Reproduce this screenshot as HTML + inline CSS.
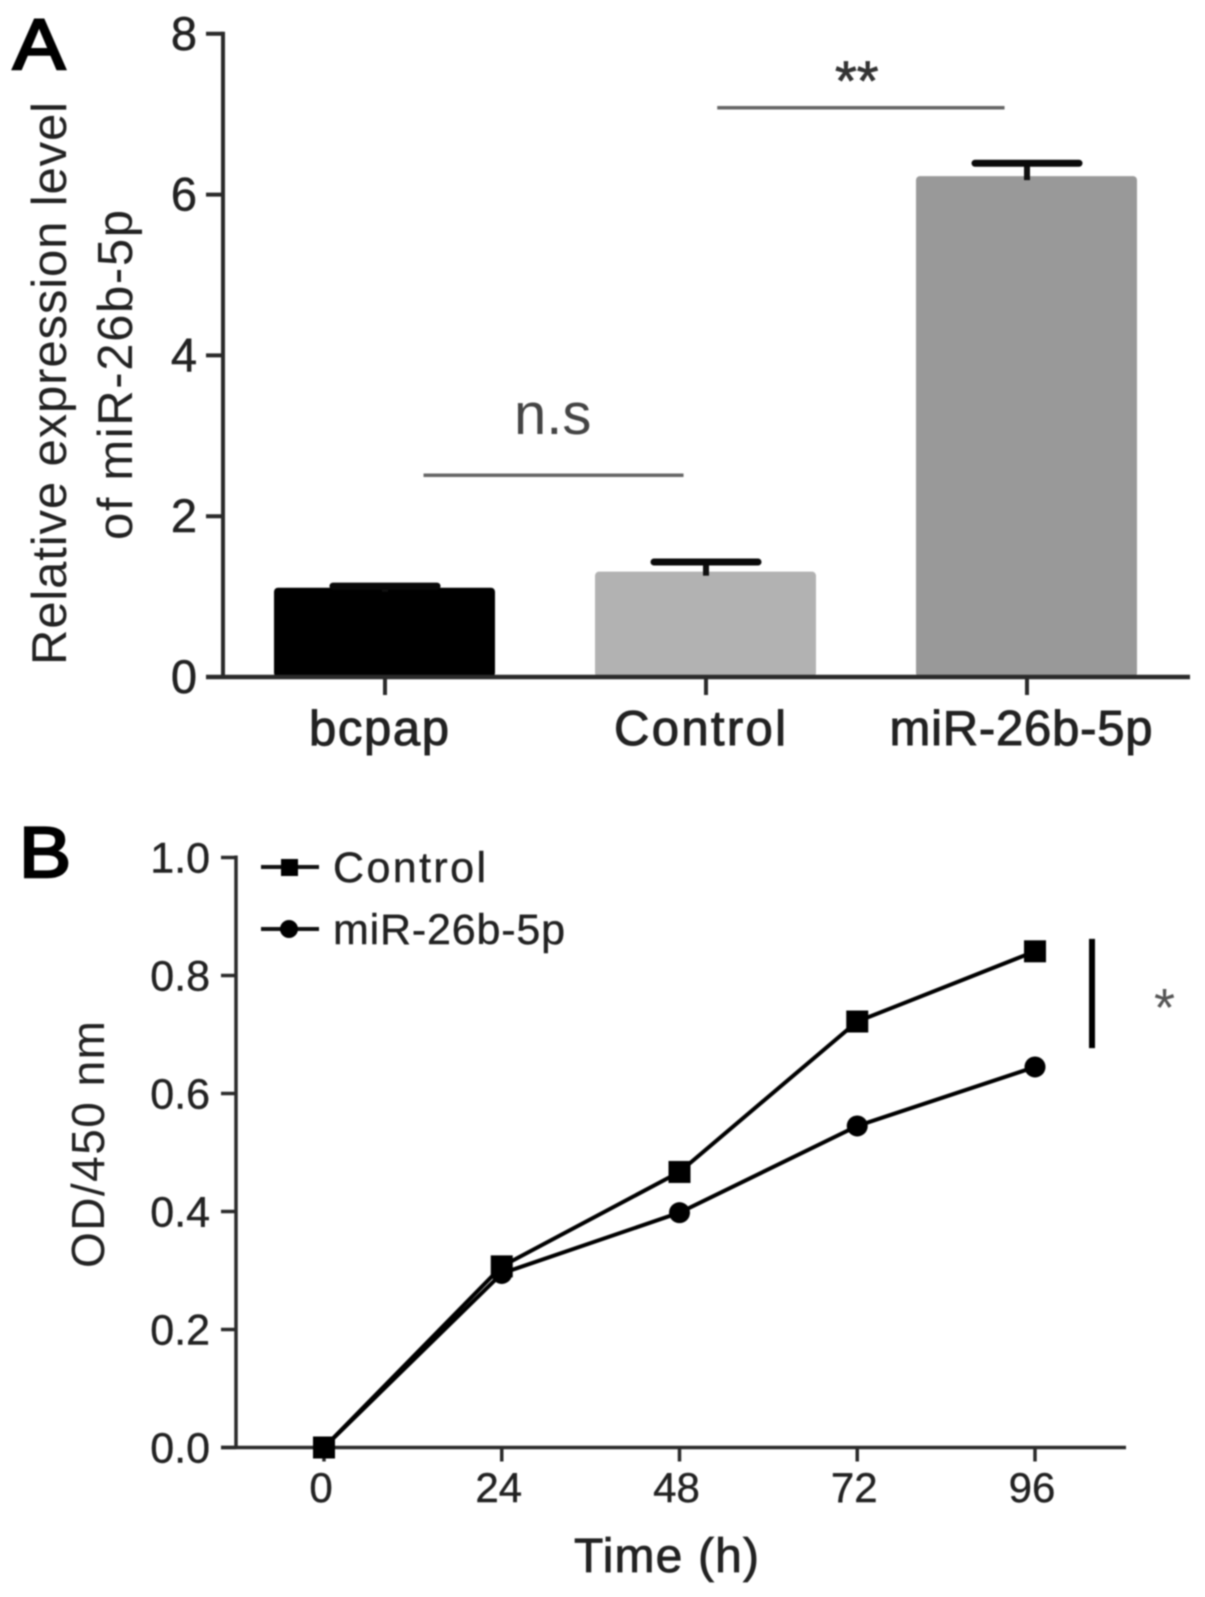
<!DOCTYPE html>
<html lang="en">
<head>
<meta charset="utf-8">
<title>miR-26b-5p expression and OD/450 nm</title>
<style>
html,body{margin:0;padding:0;background:#fff;width:1205px;height:1597px;overflow:hidden}
svg{display:block;filter:blur(.8px)}
text{font-family:"Liberation Sans",Arial,sans-serif;fill:#222}
</style>
</head>
<body>
<svg id="figure" xmlns="http://www.w3.org/2000/svg" width="1205" height="1597" viewBox="0 0 1205 1597">
  <rect width="1205" height="1597" fill="#fff"/>
  <g id="panel-a"></g>
  <g id="panel-b"></g>
  <text transform="translate(13 69) scale(1.1 1)" font-size="71" style="fill:#000;stroke:#000;stroke-width:2.5">A</text>
  <text transform="translate(19 877) scale(1.1 1)" font-size="71" style="fill:#000;stroke:#000;stroke-width:2.5">B</text>
  <text transform="translate(66 665) rotate(-90)" font-size="49" textLength="563" lengthAdjust="spacing">Relative expression level</text>
  <text transform="translate(132 540) rotate(-90)" font-size="49" textLength="330" lengthAdjust="spacing">of miR-26b-5p</text>
  <text transform="translate(104 1268) rotate(-90)" font-size="46" textLength="247" lengthAdjust="spacing">OD/450 nm</text>
  <text x="574" y="1572" font-size="48" textLength="185" lengthAdjust="spacing" style="stroke:#222;stroke-width:.8">Time (h)</text>
  <text x="514" y="434" font-size="58" style="fill:#444">n.s</text>
  <text x="835" y="100" font-size="56" style="fill:#333;stroke:#333;stroke-width:.8">**</text>
  <text x="1154" y="1026" font-size="54" style="fill:#555">*</text>
</svg>
<script>
// Panel A data
const barCategories = ['bcpap', 'Control', 'miR-26b-5p'];
const barValues = [1.11, 1.31, 6.23];
const barErrorTops = [1.13, 1.43, 6.39];
const barColors = ['#000000', '#b2b2b2', '#999999'];
const yTicksA = [0, 2, 4, 6, 8];
const sigLevelsA = [2.51, 7.08];
const sigStartsA = [0.12, 1.035];
const sigEndsA = [0.93, 1.93];

// Panel B data
const timePoints = [0, 24, 48, 72, 96];
const controlSeries = [0, 0.307, 0.467, 0.722, 0.841];
const mirSeries = [0, 0.295, 0.398, 0.545, 0.645];
const yTicksB = ['0.0', '0.2', '0.4', '0.6', '0.8', '1.0'];
const legendLabels = ['Control', 'miR-26b-5p'];

const NS = 'http://www.w3.org/2000/svg';
const INK = '#2a2a2a';
function add(parent, tag, attrs, txt) {
  const el = document.createElementNS(NS, tag);
  for (const k in attrs) el.setAttribute(k, attrs[k]);
  if (txt !== undefined) el.textContent = txt;
  parent.appendChild(el);
  return el;
}

// Axis functions
const yA = v => 677 - v * 80.4;
const xA = i => 385 + i * 321;
const xB = t => 324 + t * (711 / 96);
const yB = v => 1447.5 - v * 590;

const a = document.getElementById('panel-a');
const b = document.getElementById('panel-b');

// Panel A bars
barCategories.forEach((c, i) => {
  const bar = add(a, 'rect', {x: xA(i) - 111, y: yA(barValues[i]), width: 221, height: yA(0) - yA(barValues[i]), rx: 4, fill: barColors[i]});
  
  
  const stem = add(a, 'line', {x1: xA(i), x2: xA(i), y1: yA(barValues[i]) + 4, y2: yA(barErrorTops[i]), stroke: '#111', 'stroke-width': 6});
  
  
  const cap = add(a, 'line', {x1: xA(i) - 52, x2: xA(i) + 52, y1: yA(barErrorTops[i]), y2: yA(barErrorTops[i]), stroke: '#0a0a0a', 'stroke-width': 7, 'stroke-linecap': 'round'});
  
  
  const tick = add(a, 'line', {x1: xA(i), x2: xA(i), y1: yA(0), y2: yA(0) + 18, stroke: INK, 'stroke-width': 4});
  
  
  const label = add(a, 'text', {x: xA(i) - 6, y: 745, 'font-size': 49, 'text-anchor': 'middle', textLength: [140, 172, 263][i], lengthAdjust: 'spacing', stroke: '#222', 'stroke-width': 1}, c);
  
  
});

// Panel A axes
const axisAY = add(a, 'line', {x1: 223, x2: 223, y1: yA(8) - 2, y2: yA(0), stroke: INK, 'stroke-width': 4});


const axisAX = add(a, 'line', {x1: 206, x2: 1190, y1: yA(0), y2: yA(0), stroke: INK, 'stroke-width': 4.5});


yTicksA.forEach(t => {
  const tick = add(a, 'line', {x1: 206, x2: 223, y1: yA(t), y2: yA(t), stroke: INK, 'stroke-width': 4});
  
  
  const label = add(a, 'text', {x: 197, y: yA(t) + 16, 'font-size': 47, 'text-anchor': 'end', stroke: '#222', 'stroke-width': 0.5}, String(t));
  
  
});

// Panel A significance lines
sigLevelsA.forEach((lv, i) => {
  const s = add(a, 'line', {x1: xA(sigStartsA[i]), x2: xA(sigEndsA[i]), y1: yA(lv), y2: yA(lv), stroke: '#666', 'stroke-width': 3.5});
  
  
});

// Panel B axes
const axisBY = add(b, 'line', {x1: 236, x2: 236, y1: yB(1) - 2, y2: yB(0), stroke: INK, 'stroke-width': 3.5});


const axisBX = add(b, 'line', {x1: 221, x2: 1126, y1: yB(0), y2: yB(0), stroke: INK, 'stroke-width': 3.5});


yTicksB.forEach(t => {
  const v = parseFloat(t);
  const tick = add(b, 'line', {x1: 221, x2: 236, y1: yB(v), y2: yB(v), stroke: INK, 'stroke-width': 3.5});
  
  
  const label = add(b, 'text', {x: 210, y: yB(v) + 15, 'font-size': 43, 'text-anchor': 'end', stroke: '#222', 'stroke-width': 0.4}, t);
  
  
});
timePoints.forEach(t => {
  const tick = add(b, 'line', {x1: xB(t), x2: xB(t), y1: yB(0), y2: yB(0) + 14, stroke: INK, 'stroke-width': 3.5});
  
  
  const label = add(b, 'text', {x: xB(t) - 3, y: 1502, 'font-size': 42, 'text-anchor': 'middle', stroke: '#222', 'stroke-width': 0.4}, String(t));
  
  
});

// Panel B series
function polyPoints(series) {
  return series.map((v, i) => xB(timePoints[i]) + ',' + yB(v)).join(' ');
}
const lineControl = add(b, 'polyline', {points: polyPoints(controlSeries), fill: 'none', stroke: '#000', 'stroke-width': 4});


const lineMir = add(b, 'polyline', {points: polyPoints(mirSeries), fill: 'none', stroke: '#000', 'stroke-width': 4});


controlSeries.forEach((v, i) => {
  const m = add(b, 'rect', {x: xB(timePoints[i]) - 11, y: yB(v) - 11, width: 22, height: 22, fill: '#000'});
  
  
});
mirSeries.forEach((v, i) => {
  const m = add(b, 'circle', {cx: xB(timePoints[i]), cy: yB(v), r: 10.5, fill: '#000'});
  
  
});

// Panel B legend
legendLabels.forEach((name, i) => {
  const ly = 867 + i * 62;
  const line = add(b, 'line', {x1: 261, x2: 319, y1: ly, y2: ly, stroke: '#111', 'stroke-width': 4});
  
  
  if (i === 0) {
    const m = add(b, 'rect', {x: 281, y: ly - 8, width: 17, height: 17, fill: '#000'});
    
    
  } else {
    const m = add(b, 'circle', {cx: 289, cy: ly, r: 9, fill: '#000'});
    
    
  }
  const label = add(b, 'text', {x: 333, y: ly + 15, 'font-size': 43, textLength: i === 0 ? 153 : 232, lengthAdjust: 'spacing', stroke: '#222', 'stroke-width': 0.4}, name);
  
  
});

// Panel B significance bar
const sigBar = add(b, 'line', {x1: 1092, x2: 1092, y1: yB(0.862), y2: yB(0.677), stroke: '#000', 'stroke-width': 6});


</script>
</body>
</html>
